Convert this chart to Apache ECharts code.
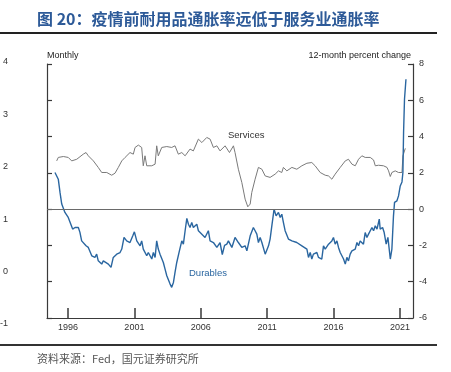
<!DOCTYPE html>
<html><head><meta charset="utf-8">
<script src="https://cdn.jsdelivr.net/npm/echarts@6/dist/echarts.min.js"></script>
<style>html,body{margin:0;padding:0;background:#fff}#c{width:451px;height:372px}</style>
</head><body><div id="c"></div>
<script>
const titleText = '图 20：疫情前耐用品通胀率远低于服务业通胀率';
const sourceText = '资料来源：Fed，国元证券研究所';
const yearTicks = [1996, 2001, 2006, 2011, 2016, 2021];
const rightTicks = [-6, -4, -2, 0, 2, 4, 6, 8];
const leftTicks = [-1, 0, 1, 2, 3, 4];

const servicesDates = [1995.15,1995.27,1995.65,1996.02,1996.28,1996.66,1997.15,1997.36,1997.53,1997.91,1998.28,1998.54,1998.92,1999.29,1999.54,1999.79,2000.05,2000.30,2000.67,2000.92,2001.05,2001.30,2001.55,2001.67,2001.80,2001.93,2002.05,2002.31,2002.56,2002.68,2002.80,2003.06,2003.44,2003.81,2004.06,2004.31,2004.57,2004.82,2005.19,2005.44,2005.82,2006.08,2006.45,2006.70,2006.95,2007.21,2007.45,2007.83,2008.16,2008.46,2008.58,2008.83,2009.09,2009.34,2009.54,2009.72,2009.84,2010.09,2010.34,2010.60,2010.85,2011.22,2011.60,2011.85,2012.10,2012.22,2012.48,2012.86,2013.23,2013.61,2013.99,2014.36,2014.61,2014.99,2015.37,2015.62,2015.87,2016.12,2016.50,2016.88,2017.12,2017.38,2017.63,2017.88,2018.13,2018.38,2018.76,2019.01,2019.14,2019.38,2019.76,2020.02,2020.14,2020.27,2020.39,2020.64,2020.89,2021.02,2021.15,2021.22,2021.40];
const servicesValues = [2.66,2.85,2.90,2.85,2.66,2.75,3.03,3.12,2.94,2.66,2.30,2.02,2.02,1.87,1.98,2.30,2.66,2.85,3.12,3.03,3.40,3.53,3.40,2.39,2.94,2.39,2.30,2.39,2.48,3.49,2.94,3.40,3.45,3.40,3.49,3.03,3.12,2.94,3.31,3.21,3.86,3.67,3.95,3.86,3.40,3.49,3.21,3.49,3.12,3.49,3.12,2.20,1.47,0.55,0.13,0.28,0.92,1.65,2.30,2.20,1.83,1.75,1.93,2.11,2.02,2.30,2.11,2.30,2.20,2.39,2.53,2.57,2.39,2.02,1.87,1.83,1.65,1.93,2.30,2.66,2.75,2.48,2.39,2.75,2.94,2.85,2.85,2.71,2.39,2.42,2.39,2.30,2.11,1.80,2.02,2.11,2.02,1.97,2.02,2.94,3.35];

const durablesDates = [1995.02,1995.27,1995.40,1995.53,1995.65,1995.77,1995.90,1996.02,1996.15,1996.35,1996.53,1996.78,1996.90,1997.03,1997.15,1997.36,1997.53,1997.79,1998.03,1998.16,1998.28,1998.41,1998.54,1998.66,1998.79,1999.04,1999.24,1999.41,1999.67,1999.92,2000.05,2000.22,2000.42,2000.67,2000.88,2001.00,2001.18,2001.43,2001.55,2001.67,2001.93,2002.05,2002.31,2002.43,2002.56,2002.68,2002.80,2002.93,2003.18,2003.31,2003.44,2003.56,2003.69,2003.81,2003.94,2004.06,2004.19,2004.39,2004.57,2004.69,2004.82,2004.95,2005.07,2005.19,2005.32,2005.44,2005.70,2005.82,2006.08,2006.32,2006.57,2006.70,2006.95,2007.21,2007.45,2007.62,2007.79,2007.96,2008.08,2008.34,2008.58,2008.83,2009.09,2009.34,2009.47,2009.72,2009.96,2010.09,2010.22,2010.34,2010.47,2010.60,2010.85,2010.97,2011.10,2011.22,2011.35,2011.52,2011.67,2011.85,2011.98,2012.10,2012.22,2012.35,2012.60,2012.86,2012.98,2013.23,2013.35,2013.61,2013.73,2013.99,2014.11,2014.24,2014.36,2014.48,2014.74,2014.86,2015.11,2015.24,2015.37,2015.62,2015.87,2015.99,2016.12,2016.25,2016.37,2016.50,2016.63,2016.75,2016.88,2017.00,2017.12,2017.25,2017.38,2017.63,2017.76,2017.88,2018.00,2018.25,2018.38,2018.51,2018.63,2018.89,2019.01,2019.14,2019.27,2019.44,2019.51,2019.69,2019.81,2019.96,2020.09,2020.27,2020.39,2020.51,2020.59,2020.77,2020.89,2021.02,2021.15,2021.22,2021.27,2021.34,2021.45];
const durablesValues = [2.02,1.65,0.92,0.28,0.18,-0.18,-0.09,-0.46,-0.55,-1.10,-1.01,-1.01,-1.28,-1.75,-1.65,-2.02,-2.11,-2.57,-2.66,-2.48,-2.85,-2.75,-3.03,-2.85,-2.85,-3.03,-3.21,-2.66,-2.48,-2.39,-2.20,-1.56,-1.75,-1.84,-1.47,-1.25,-1.75,-2.02,-1.75,-2.20,-2.57,-2.39,-2.75,-2.39,-2.66,-1.75,-2.20,-2.48,-2.94,-3.31,-3.67,-3.76,-4.13,-4.31,-4.04,-3.49,-2.94,-2.30,-1.75,-1.93,-1.19,-0.51,-0.83,-1.01,-0.73,-1.01,-0.83,-1.19,-1.38,-1.56,-1.19,-1.75,-1.84,-2.11,-1.84,-2.50,-2.00,-1.93,-1.75,-2.11,-1.56,-1.84,-2.11,-2.02,-2.30,-1.47,-1.01,-1.19,-1.38,-1.84,-1.56,-1.84,-2.48,-2.53,-2.02,-1.65,-0.92,0.00,-0.37,-0.18,-0.46,-0.28,-0.73,-1.19,-1.65,-1.75,-1.65,-1.84,-1.75,-2.02,-1.93,-2.20,-2.66,-2.39,-2.75,-2.48,-2.39,-2.66,-2.75,-2.02,-2.20,-1.93,-1.75,-1.56,-1.93,-1.75,-2.11,-2.39,-2.30,-2.75,-3.03,-2.66,-2.85,-2.48,-2.30,-2.20,-1.84,-2.02,-1.75,-1.93,-1.29,-1.56,-1.38,-1.01,-1.19,-0.92,-1.10,-0.55,-1.10,-1.01,-1.29,-1.93,-1.56,-2.75,-2.20,-0.37,0.37,0.46,0.73,1.28,1.50,2.02,4.22,6.06,7.16];

const FONT = '"Liberation Sans", Arial, sans-serif';
const AX = '#3a3a3a';
const pairs = (d, v) => d.map((t, i) => [t, v[i]]);

const chart = echarts.init(document.getElementById('c'), null, {renderer: 'canvas'});
chart.setOption({
  animation: false,
  backgroundColor: '#fff',
  grid: [
    {left: 47, right: 38, top: 64, bottom: 54},
    {left: 10, width: 1, top: 62, height: 262}
  ],
  xAxis: [
    {type: 'value', gridIndex: 0, min: 1994.42, max: 2021.98,
     axisLine: {show: true, onZero: false, lineStyle: {color: AX, width: 1.2}},
     axisTick: {show: true, inside: true, length: 10, lineStyle: {color: AX, width: 1.5}, customValues: yearTicks},
     axisLabel: {customValues: yearTicks, formatter: v => String(Math.round(v)), fontSize: 9, color: '#333', margin: 5, fontFamily: FONT},
     splitLine: {show: false}},
    {type: 'value', gridIndex: 1, show: false, min: 0, max: 1}
  ],
  yAxis: [
    {type: 'value', gridIndex: 0, position: 'right', min: -6, max: 8, interval: 2,
     name: '12-month percent change', nameLocation: 'end', nameGap: 4,
     nameTextStyle: {align: 'right', fontSize: 9, color: '#222', fontFamily: FONT, padding: [0, 2, 0, 0]},
     axisLine: {show: true, lineStyle: {color: AX, width: 1.2}},
     axisTick: {show: true, inside: true, length: 5, lineStyle: {color: AX, width: 1.2}},
     axisLabel: {fontSize: 9, color: '#333', margin: 6, fontFamily: FONT},
     splitLine: {show: false}},
    {type: 'value', gridIndex: 0, position: 'left', min: -6, max: 8, interval: 2,
     name: 'Monthly', nameLocation: 'end', nameGap: 4,
     nameTextStyle: {align: 'left', fontSize: 9, color: '#222', fontFamily: FONT},
     axisLine: {show: true, lineStyle: {color: AX, width: 1.2}},
     axisTick: {show: true, inside: true, length: 5, lineStyle: {color: AX, width: 1.2}},
     axisLabel: {show: false}, splitLine: {show: false}},
    {type: 'value', gridIndex: 1, position: 'left', min: -1, max: 4, interval: 1,
     axisLine: {show: false}, axisTick: {show: false}, splitLine: {show: false},
     axisLabel: {customValues: leftTicks, fontSize: 9, color: '#333', margin: 3, fontFamily: FONT}}
  ],
  series: [
    {name: 'Services', type: 'line', xAxisIndex: 0, yAxisIndex: 0, data: pairs(servicesDates, servicesValues),
     showSymbol: false, symbol: 'none', lineStyle: {color: '#7a7a7a', width: 1}, z: 3},
    {name: 'Durables', type: 'line', xAxisIndex: 0, yAxisIndex: 0, data: pairs(durablesDates, durablesValues),
     showSymbol: false, symbol: 'none', lineStyle: {color: '#2a66a0', width: 1.4}, z: 4,
     markLine: {silent: true, symbol: 'none', label: {show: false},
       lineStyle: {color: '#6a6a6a', width: 1, type: 'solid'}, data: [{yAxis: 0}]}}
  ],
  graphic: [
    {type: 'text', left: 37, top: 11, style: {text: titleText, fill: '#2d5a98', font: 'bold 16px "Noto Sans CJK SC", sans-serif'}},
    {type: 'rect', shape: {x: 0, y: 32, width: 437, height: 2}, style: {fill: '#222'}},
    {type: 'rect', shape: {x: 0, y: 344, width: 437, height: 2}, style: {fill: '#333'}},
    {type: 'text', left: 37, top: 353, style: {text: sourceText, fill: '#555', font: '11px "Noto Sans CJK SC", sans-serif'}},
    {type: 'text', left: 228, top: 130, style: {text: 'Services', fill: '#333', font: '9.5px ' + FONT}},
    {type: 'text', left: 189, top: 268, style: {text: 'Durables', fill: '#2a66a0', font: '9.5px ' + FONT}}
  ]
});
</script></body></html>
